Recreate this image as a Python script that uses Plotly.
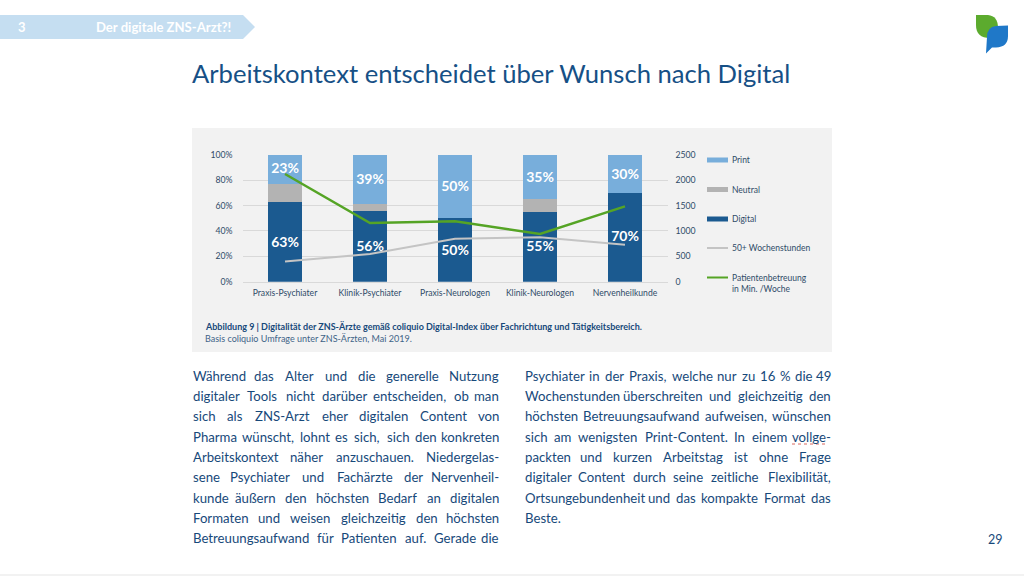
import plotly.graph_objects as go

categories = ["Praxis-Psychiater", "Klinik-Psychiater", "Praxis-Neurologen", "Klinik-Neurologen", "Nervenheilkunde"]
digital = [63, 56, 50, 55, 70]
neutral = [14, 5, 0, 10, 0]
printed = [23, 39, 50, 35, 30]
stunden = [400, 545, 846, 873, 728]
betreuung = [2120, 1155, 1188, 938, 1483]
digital_labels = ["63%", "56%", "50%", "55%", "70%"]
print_labels = ["23%", "39%", "50%", "35%", "30%"]
digital_label_pos = [30.4, 27, 24, 27, 34.4]
print_label_pos = [88, 80, 74, 81.6, 84]

left_lines = [
 "Während das Alter und die generelle Nutzung",
 "digitaler Tools nicht darüber entscheiden, ob man",
 "sich als ZNS-Arzt eher digitalen Content von",
 "Pharma wünscht, lohnt es sich, sich den konkreten",
 "Arbeitskontext näher anzuschauen. Niedergelas-",
 "sene Psychiater und Fachärzte der Nervenheil-",
 "kunde äußern den höchsten Bedarf an digitalen",
 "Formaten und weisen gleichzeitig den höchsten",
 "Betreuungsaufwand für Patienten auf. Gerade die",
]
right_lines = [
 "Psychiater in der Praxis, welche nur zu 16 % die 49",
 "Wochenstunden überschreiten und gleichzeitig den",
 "höchsten Betreuungsaufwand aufweisen, wünschen",
 "sich am wenigsten Print-Content. In einem vollge-",
 "packten und kurzen Arbeitstag ist ohne Frage",
 "digitaler Content durch seine zeitliche Flexibilität,",
 "Ortsungebundenheit und das kompakte Format das",
 "Beste.",
]

W, H = 1024, 576
PX0, PX1, PY0, PY1 = 242.5, 667.5, 154.7, 281.7
FONT = "Lato"
NAVY = "#17497a"
TICK = "#2f4b68"

def X(p): return p / W
def Y(p): return 1 - p / H

fig = go.Figure()
fig.add_bar(x=categories, y=digital, name="Digital", marker_color="#1b5a90", marker_line_width=0)
fig.add_bar(x=categories, y=neutral, name="Neutral", marker_color="#b3b3b3", marker_line_width=0)
fig.add_bar(x=categories, y=printed, name="Print", marker_color="#78aedb", marker_line_width=0)
fig.add_scatter(x=categories, y=stunden, yaxis="y2", mode="lines", name="50+ Wochenstunden",
                line=dict(color="#c4c4c4", width=2))
fig.add_scatter(x=categories, y=betreuung, yaxis="y2", mode="lines", name="Patientenbetreuung",
                line=dict(color="#55a425", width=2.5))
fig.add_scatter(x=categories, y=digital_label_pos, mode="text", text=digital_labels, showlegend=False,
                textfont=dict(family=FONT, size=14, color="white", weight=700))
fig.add_scatter(x=categories, y=print_label_pos, mode="text", text=print_labels, showlegend=False,
                textfont=dict(family=FONT, size=14, color="white", weight=700))

shapes, annos = [], []
def rect(x0, y0, x1, y1, color):
    shapes.append(dict(type="rect", xref="paper", yref="paper", x0=X(x0), x1=X(x1), y0=Y(y0), y1=Y(y1),
                       fillcolor=color, line_width=0, layer="below"))
def text(x, y, s, size, color, anchor="left", bold=False):
    annos.append(dict(xref="paper", yref="paper", x=X(x), y=Y(y), text=s, showarrow=False, xanchor=anchor,
                      yanchor="middle", align="left", borderpad=0,
                      font=dict(family=FONT, size=size, color=color, weight=700 if bold else 400)))
def path(cmds, color):
    parts = []
    for c in cmds:
        parts.append(c[0] + " " + " ".join(f"{X(c[i]):.5f},{Y(c[i+1]):.5f}" for i in range(1, len(c), 2)))
    shapes.append(dict(type="path", xref="paper", yref="paper", path=" ".join(parts) + " Z",
                       fillcolor=color, line_width=0, layer="below"))

rect(192, 128, 832, 352, "#f2f2f2")
rect(0, 574.5, 1024, 575.5, "#e6e6e6")
path([("M",0,15),("L",243,15),("L",255,27),("L",243,39),("L",0,39)], "#c5def1")
text(22, 27, "3", 13, "white", "center", True)
text(95, 27, "Der digitale ZNS-Arzt?!", 13.1, "white", bold=True)
text(191, 72.5, "Arbeitskontext entscheidet über Wunsch nach Digital", 25.6, "#165086")
text(995, 539, "29", 12.5, NAVY, "center")
path([("M",976,15),("L",988,15),("Q",998,16,998,28),("L",998,38),("L",990,38),("Q",976,38,976,25)], "#5cab2e")
path([("M",996,26),("L",1008,25.5),("L",1008,36),("Q",1008,47,996,47.5),("L",992,47.5),("L",986,53.5),("L",987,37),("Q",987,27,996,26)], "#1f78c8")

text(203.5, 325.5, "Abbildung 9 | Digitalität der ZNS-Ärzte gemäß coliquio Digital-Index über Fachrichtung und Tätigkeitsbereich.", 9, NAVY, bold=True)
text(204, 338.5, "Basis coliquio Umfrage unter ZNS-Ärzten, Mai 2019.", 9, "#3f6488")

legend = [("Print", 160, "#78aedb", 5), ("Neutral", 189.5, "#b3b3b3", 5), ("Digital", 219, "#1b5a90", 5),
          ("50+ Wochenstunden", 248, "#c4c4c4", 2), ("Patientenbetreuung<br>in Min. /Woche", 277.5, "#55a425", 2)]
for label, yy, col, th in legend:
    rect(707, yy - th/2, 728, yy + th/2, col)
    ty = yy + (5.5 if "<br>" in label else 0)
    text(730.5, ty, label, 8.5, TICK)

NARROW = set("ijl.,:;'|I")
SMALL = set("tfr- ")
WIDE = set("mwMW%")
def cw(c):
    if c in NARROW: return 0.25
    if c in SMALL: return 0.35
    if c in WIDE: return 0.8
    if c.isupper(): return 0.66
    if c.isdigit(): return 0.58
    if c in "nuhbdgpqo": return 0.56
    return 0.5
def ww(word, size): return sum(cw(c) for c in word) * size

def justified(lines, x0, x1, y0, step, size):
    for i, line in enumerate(lines):
        words = line.split(" ")
        y = y0 + i * step
        if len(words) == 1:
            text(x0, y, line, size, NAVY)
            continue
        widths = [ww(w, size) for w in words]
        gap = ((x1 - x0) - sum(widths)) / (len(words) - 1)
        pos = x0
        for j, w in enumerate(words):
            if j == 0:
                text(x0, y, w, size, NAVY, "left")
            elif j == len(words) - 1:
                text(x1, y, w, size, NAVY, "right")
            else:
                text(pos + widths[j] / 2, y, w, size, NAVY, "center")
            pos += widths[j] + gap

justified(left_lines, 191.5, 500, 375.8, 20.3, 13.2)
justified(right_lines, 523.5, 832, 375.8, 20.3, 13.2)
shapes.append(dict(type="line", xref="paper", yref="paper", x0=X(792), x1=X(828), y0=Y(444), y1=Y(444),
                   line=dict(color="#d9695f", width=1, dash="dot"), layer="above"))

fig.update_layout(
    width=W, height=H, margin=dict(l=0, r=0, t=0, b=0), autosize=False,
    paper_bgcolor="white", plot_bgcolor="rgba(0,0,0,0)", barmode="stack", bargap=0.6, showlegend=False,
    font=dict(family=FONT, size=8.7, color=TICK),
    xaxis=dict(domain=[X(PX0), X(PX1)], automargin=False, showgrid=False, showline=True, linecolor="#d9d9d9", ticks="",
               ticklabelstandoff=3, tickfont=dict(size=8.6), fixedrange=True),
    yaxis=dict(domain=[Y(PY1), Y(PY0)], automargin=False, range=[0, 100], tick0=0, dtick=20, ticksuffix="%",
               gridcolor="#d9d9d9", gridwidth=1, zeroline=False, ticks="", ticklabelstandoff=9, tickfont=dict(size=8.7), fixedrange=True),
    yaxis2=dict(overlaying="y", side="right", automargin=False, range=[0, 2500], tick0=0, dtick=500,
                showgrid=False, zeroline=False, ticks="", ticklabelstandoff=7, tickfont=dict(size=8.7), fixedrange=True),
    shapes=shapes, annotations=annos,
)
fig.write_html("out.html", config={"displayModeBar": False}, post_script="document.body.style.margin='0';")
